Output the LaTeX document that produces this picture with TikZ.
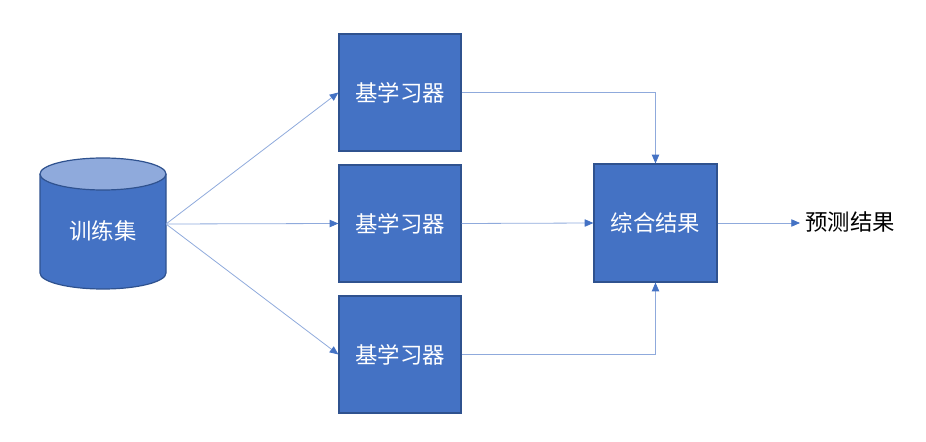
\documentclass[tikz,border=0pt]{standalone}
\usepackage{fontspec}
\newfontfamily\cjk{Noto Sans CJK SC}
\usetikzlibrary{arrows.meta}
\definecolor{boxfill}{HTML}{4472C4}
\definecolor{boxline}{HTML}{2F528F}
\definecolor{capfill}{HTML}{8FAADC}
\definecolor{linkcol}{HTML}{8FAADC}
\tikzset{
  learner/.style={draw=boxline, line width=0.9pt, fill=boxfill, minimum width=91.5pt, minimum height=87.75pt, inner sep=0pt, text=white, font=\cjk\fontsize{16.8}{18}\selectfont},
  link/.style={draw=linkcol, line width=0.6pt, -{Triangle[length=6.5pt,width=5.5pt,fill=boxfill,color=boxfill]}},
  plainlabel/.style={font=\cjk\fontsize{16.8}{18}\selectfont, text=black, inner sep=0pt}
}
\begin{document}
\begin{tikzpicture}[x=0.75pt,y=-0.75pt]
\useasboundingbox (0,0) rectangle (926,442);
% cylinder
\fill[boxfill] (40,174) -- (40,273) arc[start angle=180,end angle=0,x radius=63,y radius=16] -- (166,174) -- cycle;
\draw[boxline, line width=0.9pt] (40,174) -- (40,273) arc[start angle=180,end angle=0,x radius=63,y radius=16] -- (166,174);
\draw[boxline, line width=0.9pt, fill=capfill] (103,174) ellipse[x radius=63, y radius=16];
\node[draw=none, minimum width=94.5pt, minimum height=98pt, inner sep=0pt, text=white, font=\cjk\fontsize{16.8}{18}\selectfont] (train) at (103,231) {训练集};
\node[learner] (b1) at (400,92.5) {基学习器};
\node[learner] (b2) at (400,223.5) {基学习器};
\node[learner] (b3) at (400,354.5) {基学习器};
\node[learner, minimum width=92.25pt, minimum height=88.5pt] (comb) at (655.5,223) {综合结果};
\coordinate (src) at (166,224);
\coordinate (outend) at (800,223);
\node[plainlabel, anchor=west] (out) at (805,222) {预测结果};
\draw[link] (src) -- (b1.west);
\draw[link] (src) -- (b2.west);
\draw[link] (src) -- (b3.west);
\draw[link] (b1.east) -| (comb.north);
\draw[link] (b2.east) -- (comb.west);
\draw[link] (b3.east) -| (comb.south);
\draw[link] (comb.east) -- (outend);
\end{tikzpicture}
\end{document}
